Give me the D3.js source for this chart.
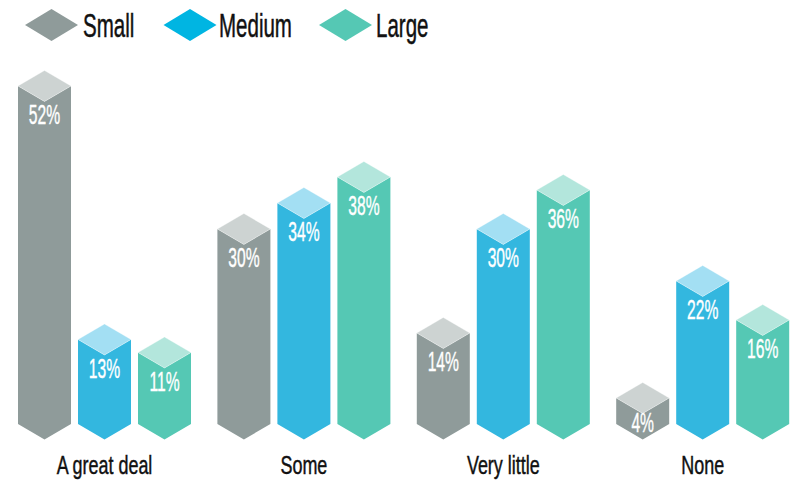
<!DOCTYPE html>
<html>
<head>
<meta charset="utf-8">
<script src="https://cdn.jsdelivr.net/npm/d3@7/dist/d3.min.js"></script>
<style>
html,body{margin:0;padding:0;background:#fff;}
svg{display:block;}
text{font-family:"Liberation Sans Narrow","Liberation Sans",sans-serif;}
</style>
</head>
<body>
<svg id="chart" width="794" height="481"></svg>
<script>
// Survey responses by organisation size, drawn as isometric columns.
const categories = ["A great deal", "Some", "Very little", "None"];
const seriesNames = ["Small", "Medium", "Large"];
const small = [52, 30, 14, 4];
const medium = [13, 34, 30, 22];
const large = [11, 38, 36, 16];
const seriesValues = [small, medium, large];
const sideColors = ["#8f9b9a", "#33b7df", "#55c8b4"];
const topColors = ["#cdd3d2", "#a3dff3", "#b3e6dc"];
const legendColors = ["#8f9b9a", "#00b5e2", "#55c8b4"];

const svg = d3.select("#chart");
const rise = 15.5;        // half height of a column's diamond cap
const baseY = 424;

const x0 = d3.scaleBand().domain(categories).range([18, 815.6]).paddingInner(0).paddingOuter(0);
const x1 = d3.scaleOrdinal().domain(seriesNames).range([0, 60, 120]);
const barW = 53;
const y = d3.scaleLinear().domain([0, 52]).range([baseY, 86]);
const line = d3.line();

const groups = svg.selectAll("g.cat").data(categories).join("g")
  .attr("class", "cat");

groups.each(function (cat, ci) {
  const g = d3.select(this);
  seriesNames.forEach((name, si) => {
    const v = seriesValues[si][ci];
    const left = x0(cat) + x1(name);
    const right = left + barW;
    const mid = left + barW / 2;
    const top = y(v);
    // front faces with the pointed bottom
    g.append("path")
      .attr("d", line([[left, top], [mid, top + rise], [right, top], [right, baseY], [mid, baseY + rise], [left, baseY]]) + "Z")
      .attr("fill", sideColors[si]);
    // lighter diamond cap
    g.append("path")
      .attr("d", line([[left, top], [mid, top - rise], [right, top], [mid, top + rise]]) + "Z")
      .attr("fill", topColors[si])
      .attr("stroke", "#fff")
      .attr("stroke-opacity", 0.55)
      .attr("stroke-width", 0.6);
    // value label, kept inside short columns
    const ty = Math.min(top + 38, baseY + 8);
    g.append("text")
      .attr("transform", `translate(${mid},${ty}) scale(0.68,1.2)`)
      .attr("text-anchor", "middle")
      .attr("font-size", 23)
      .attr("fill", "#fff")
      .attr("stroke", "#fff")
      .attr("stroke-width", 0.35)
      .text(v + "%");
  });
  // category label
  g.append("text")
    .attr("transform", `translate(${x0(cat) + x1("Medium") + barW / 2},474) scale(0.78,1.1)`)
    .attr("text-anchor", "middle")
    .attr("font-size", 23)
    .attr("fill", "#111")
    .attr("stroke", "#111")
    .attr("stroke-width", 0.4)
    .text(cat);
});

// legend
const legendX = [51.5, 190, 345.5];
const legendTextX = [83, 219, 376];
const legend = svg.append("g");
seriesNames.forEach((name, i) => {
  const cx = legendX[i];
  legend.append("path")
    .attr("d", line([[cx - 26.5, 25], [cx, 9], [cx + 26.5, 25], [cx, 41]]) + "Z")
    .attr("fill", legendColors[i]);
  legend.append("text")
    .attr("transform", `translate(${legendTextX[i]},37) scale(0.76,1.2)`)
    .attr("font-size", 27)
    .attr("fill", "#111")
    .attr("stroke", "#111")
    .attr("stroke-width", 0.4)
    .text(name);
});
</script>
</body>
</html>
